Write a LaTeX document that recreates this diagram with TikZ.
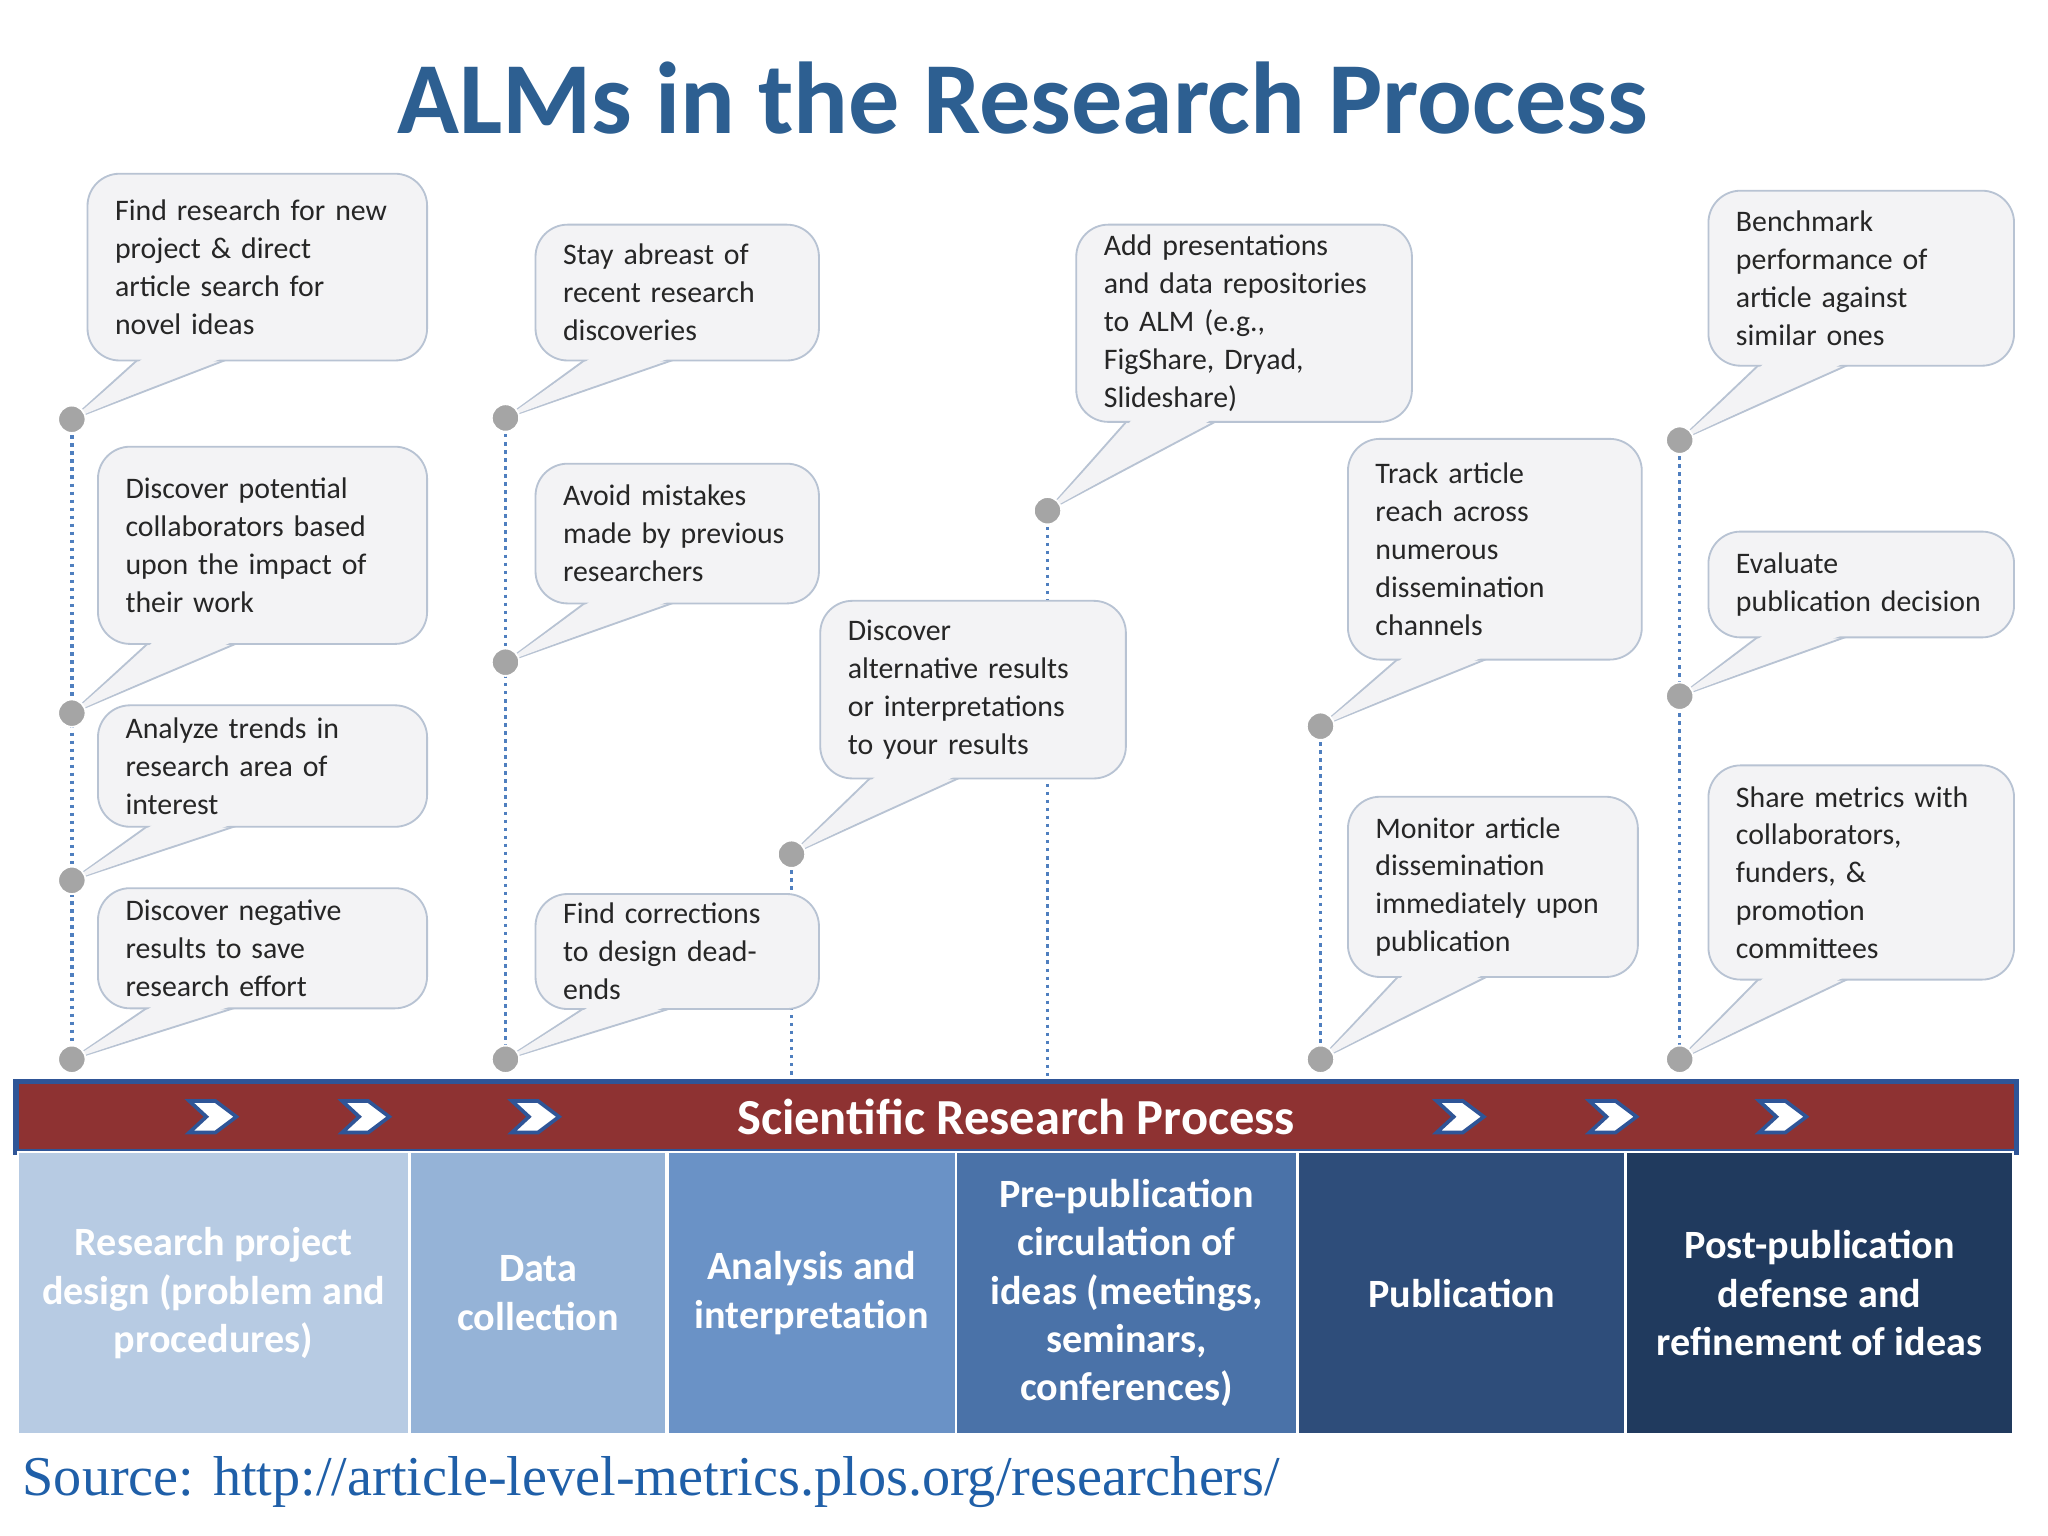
\documentclass[tikz,border=0pt]{standalone}
\usepackage{fontspec}
\setmainfont{Carlito}
\newfontfamily\srcfont{Liberation Serif}
\usetikzlibrary{calc}
\definecolor{titleblue}{HTML}{2D5F91}
\definecolor{boxfill}{HTML}{F3F3F5}
\definecolor{boxline}{HTML}{B8C3D3}
\definecolor{dotgray}{HTML}{A5A5A5}
\definecolor{lineblue}{HTML}{4F7FBF}
\definecolor{banred}{HTML}{8E3232}
\definecolor{banblue}{HTML}{2F5597}
\definecolor{colA}{HTML}{B7CBE3}
\definecolor{colB}{HTML}{95B3D7}
\definecolor{colC}{HTML}{6A92C6}
\definecolor{colD}{HTML}{4A72A8}
\definecolor{colE}{HTML}{2E4D7A}
\definecolor{colF}{HTML}{203A5E}
\definecolor{srcblue}{HTML}{1F5FA8}
\tikzset{
  callbox/.style={rectangle, rounded corners=14pt, fill=boxfill, draw=boxline, thick,
    align=left, inner xsep=12pt, inner ysep=4pt,
    font=\fontsize{13}{16.5}\selectfont, text=black!85},
  dot/.style={circle, fill=dotgray, draw=white, thick, minimum size=0.42cm, inner sep=0pt},
  vline/.style={lineblue, dotted, line width=1.5pt},
  colbox/.style={rectangle, draw=white, line width=1pt, inner sep=0pt, text=white, align=center,
    font=\bfseries\fontsize{17.5}{21}\selectfont},
  chev/.style={fill=white, draw=banblue, line width=1.6pt, line join=miter}
}
% name, x1, y1, x2, y2, dot coordinate, text
\newcommand\callout[7]{%
  \pgfmathsetmacro\cw{(#4-#2)*0.02}%
  \pgfmathsetmacro\ch{(#5-#3)*0.02}%
  \pgfmathsetmacro\tw{\cw*28.45-24}%
  \filldraw[fill=boxfill, draw=boxline, thick, line join=round] (#2+40,#5-2) -- (#6) -- (#2+110,#5-2) -- cycle;
  \node[callbox, minimum width=\cw cm, minimum height=\ch cm, text width=\tw pt]
    (#1) at ({(#2+#4)/2},{(#3+#5)/2}) {#7};
  \fill[boxfill] (#2+44,#5-3) -- (#2+106,#5-3) -- (#6) -- cycle;
}
\newcommand\chevron[2]{%
  \draw[chev] (#1-18,843) -- (#1+2,843) -- (#1+18,855) -- (#1+2,867) -- (#1-18,867) -- (#1-5,855) -- cycle;
  \coordinate (#2) at (#1,855);
}
\begin{document}
\begin{tikzpicture}[x=0.02cm, y=-0.02cm]
\useasboundingbox[fill=white] (0,0) rectangle (1568,1176);

\node[text=titleblue, font=\bfseries\fontsize{44.5}{50}\selectfont] (title) at (783,75) {ALMs in the Research Process};

% dot positions
\coordinate (d1) at (55,321);  \coordinate (d2) at (55,546);
\coordinate (d3) at (55,674);  \coordinate (d4) at (55,811);
\coordinate (d5) at (387,320); \coordinate (d6) at (387,507);
\coordinate (d7) at (387,811); \coordinate (d8) at (606,654);
\coordinate (d9) at (802,391); \coordinate (d10) at (1011,556);
\coordinate (d11) at (1011,811); \coordinate (d12) at (1286,337);
\coordinate (d13) at (1286,533); \coordinate (d14) at (1286,811);
\coordinate (e8) at (606,826); \coordinate (e9) at (802,826);

% dotted stems
\draw[vline] (d1) -- (d4);
\draw[vline] (d5) -- (d7);
\draw[vline] (d8) -- (e8);
\draw[vline] (d9) -- (e9);
\draw[vline] (d10) -- (d11);
\draw[vline] (d12) -- (d14);

% callouts
\callout{c1}{67}{133}{327}{276}{d1}{Find research for new\\project \& direct\\article search for\\novel ideas}
\callout{c2}{75}{342}{327}{493}{d2}{Discover potential\\collaborators based\\upon the impact of\\their work}
\callout{c3}{75}{540}{327}{633}{d3}{Analyze trends in\\research area of\\interest}
\callout{c4}{75}{680}{327}{772}{d4}{Discover negative\\results to save\\research effort}
\callout{c5}{410}{172}{627}{276}{d5}{Stay abreast of\\recent research\\discoveries}
\callout{c6}{410}{355}{627}{462}{d6}{Avoid mistakes\\made by previous\\researchers}
\callout{c7}{410}{685}{627}{772}{d7}{Find corrections\\to design dead-\\ends}
\callout{c8}{628}{460}{862}{596}{d8}{Discover\\alternative results\\or interpretations\\to your results}
\callout{c9}{824}{172}{1081}{323}{d9}{Add presentations\\and data repositories\\to ALM (e.g.,\\FigShare, Dryad,\\Slideshare)}
\callout{c10}{1032}{336}{1257}{505}{d10}{Track article\\reach across\\numerous\\dissemination\\channels}
\callout{c11}{1032}{610}{1254}{748}{d11}{Monitor article\\dissemination\\immediately upon\\publication}
\callout{c12}{1308}{146}{1542}{280}{d12}{Benchmark\\performance of\\article against\\similar ones}
\callout{c13}{1308}{407}{1542}{488}{d13}{Evaluate\\publication decision}
\callout{c14}{1308}{586}{1542}{750}{d14}{Share metrics with\\collaborators,\\funders, \&\\promotion\\committees}

% dots
\foreach \i in {1,...,14} \node[dot] (dot\i) at (d\i) {};

% banner
\node[rectangle, fill=banred, draw=banblue, line width=2.5pt, minimum width=30.64cm, minimum height=1.08cm,
  inner sep=0pt] (banner) at (778,855) {};
\node[text=white, font=\bfseries\fontsize{22}{26}\selectfont] (bantext) at (778,855) {Scientific Research Process};
\chevron{163}{ch1}\chevron{280}{ch2}\chevron{410}{ch3}
\chevron{1118}{ch4}\chevron{1235}{ch5}\chevron{1365}{ch6}

% stage columns
\node[colbox, fill=colA, minimum width=6.0cm, minimum height=4.32cm] (s1) at (163.5,990) {Research project\\design (problem and\\procedures)};
\node[colbox, fill=colB, minimum width=3.92cm, minimum height=4.32cm] (s2) at (412,990) {Data\\collection};
\node[colbox, fill=colC, minimum width=4.42cm, minimum height=4.32cm] (s3) at (621.5,990) {Analysis and\\interpretation};
\node[colbox, fill=colD, minimum width=5.22cm, minimum height=4.32cm] (s4) at (862.5,990) {Pre-publication\\circulation of\\ideas (meetings,\\seminars,\\conferences)};
\node[colbox, fill=colE, minimum width=5.02cm, minimum height=4.32cm] (s5) at (1119,990) {Publication};
\node[colbox, fill=colF, minimum width=5.92cm, minimum height=4.32cm] (s6) at (1393,990) {Post-publication\\defense and\\refinement of ideas};

\node[anchor=west, text=srcblue, font=\srcfont\fontsize{24.5}{28}\selectfont, inner sep=0pt] (src) at (17,1135)
  {Source: http://article-level-metrics.plos.org/researchers/};
\end{tikzpicture}
\end{document}
